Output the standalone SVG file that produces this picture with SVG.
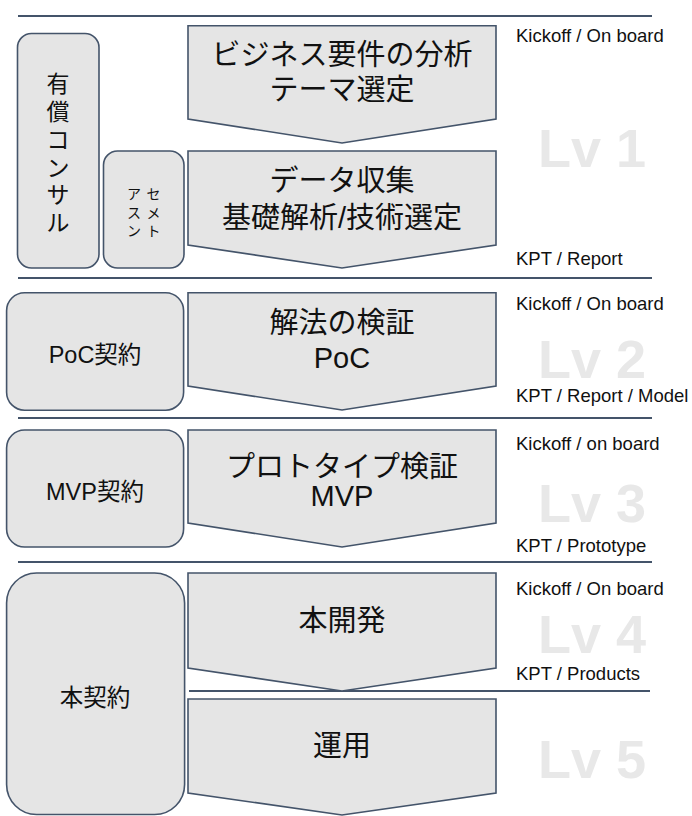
<svg xmlns="http://www.w3.org/2000/svg" width="692" height="816" viewBox="0 0 692 816">
<style>
.box{fill:#e5e5e5;stroke:#44546a;stroke-width:1.6}
.sep{stroke:#44546a;stroke-width:2.2;fill:none}
.t{font-family:"Liberation Sans","Noto Sans CJK JP",sans-serif;fill:#111}
.main{font-size:29px;text-anchor:middle}
.lbl{font-size:23.5px;text-anchor:middle}
.side{font-size:18.5px}
.sm{font-size:14px;text-anchor:middle}
.v{font-size:23px;text-anchor:middle}
.lv{font-family:"Liberation Sans",sans-serif;font-weight:bold;font-size:54px;fill:#e8e8e8}
</style>
<rect width="692" height="816" fill="#ffffff"/>
<g id="lines">
<line class="sep" x1="18" y1="16" x2="652" y2="16"/>
<line class="sep" x1="18" y1="278" x2="652" y2="278"/>
<line class="sep" x1="18" y1="418" x2="652" y2="418"/>
<line class="sep" x1="18" y1="562" x2="652" y2="562"/>
<line class="sep" x1="189" y1="691" x2="650" y2="691"/>
</g>
<g id="lv-labels">
<text class="lv" x="538" y="167">Lv 1</text>
<text class="lv" x="538" y="378">Lv 2</text>
<text class="lv" x="538" y="522">Lv 3</text>
<text class="lv" x="538" y="653">Lv 4</text>
<text class="lv" x="538" y="778">Lv 5</text>
</g>
<g id="paid-consult">
<rect class="box" x="17.5" y="33.5" width="81.5" height="234.5" rx="14"/>
<text class="t v" x="58" y="92">有</text>
<text class="t v" x="58" y="120">償</text>
<text class="t v" x="58" y="148">コ</text>
<text class="t v" x="58" y="176">ン</text>
<text class="t v" x="58" y="203">サ</text>
<text class="t v" x="58" y="231">ル</text>
</g>
<g id="assessment">
<rect class="box" x="103.5" y="151" width="80.5" height="117" rx="14"/>
<text class="t sm" x="134" y="199">ア</text>
<text class="t sm" x="153.5" y="199">セ</text>
<text class="t sm" x="134" y="217.5">ス</text>
<text class="t sm" x="153.5" y="217.5">メ</text>
<text class="t sm" x="134" y="236">ン</text>
<text class="t sm" x="153.5" y="236">ト</text>
</g>
<g id="poc-contract">
<rect class="box" x="6.6" y="292.7" width="177" height="117.5" rx="18"/>
<text class="t lbl" x="95" y="363">PoC契約</text>
</g>
<g id="mvp-contract">
<rect class="box" x="6.6" y="430" width="177" height="117" rx="18"/>
<text class="t lbl" x="95" y="500">MVP契約</text>
</g>
<g id="main-contract">
<rect class="box" x="6.6" y="573" width="178" height="241.5" rx="30"/>
<text class="t lbl" x="95" y="706">本契約</text>
</g>
<g id="step-business">
<polygon class="box" points="188,25.7 496,25.7 496,119 342,143 188,119"/>
<text class="t main" x="342" y="65">ビジネス要件の分析</text>
<text class="t main" x="342" y="100">テーマ選定</text>
</g>
<g id="step-data">
<polygon class="box" points="188,151 496,151 496,245 342,268 188,245"/>
<text class="t main" x="342" y="191">データ収集</text>
<text class="t main" x="342" y="228">基礎解析/技術選定</text>
</g>
<g id="step-poc">
<polygon class="box" points="188,292.7 496,292.7 496,386 342,410 188,386"/>
<text class="t main" x="342" y="333">解法の検証</text>
<text class="t main" x="342" y="368">PoC</text>
</g>
<g id="step-mvp">
<polygon class="box" points="188,430 496,430 496,523 342,547 188,523"/>
<text class="t main" x="342" y="477">プロトタイプ検証</text>
<text class="t main" x="342" y="506">MVP</text>
</g>
<g id="step-dev">
<polygon class="box" points="188,573 496,573 496,668 342,691 188,668"/>
<text class="t main" x="342" y="631">本開発</text>
</g>
<g id="step-ops">
<polygon class="box" points="188,699 496,699 496,793 342,815 188,793"/>
<text class="t main" x="342" y="756">運用</text>
</g>
<g id="side-labels">
<text class="t side" x="516" y="42">Kickoff / On board</text>
<text class="t side" x="516" y="265">KPT / Report</text>
<text class="t side" x="516" y="310">Kickoff / On board</text>
<text class="t side" x="516" y="402">KPT / Report / Model</text>
<text class="t side" x="516" y="450">Kickoff / on board</text>
<text class="t side" x="516" y="552">KPT / Prototype</text>
<text class="t side" x="516" y="595">Kickoff / On board</text>
<text class="t side" x="516" y="680">KPT / Products</text>
</g>
</svg>
